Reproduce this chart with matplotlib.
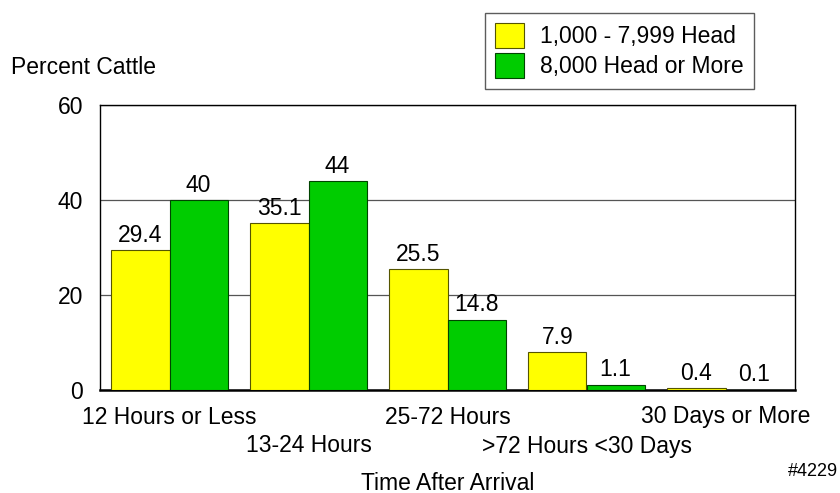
import numpy as np
import matplotlib.pyplot as plt

plt.rcParams['font.family'] = ['Liberation Sans', 'DejaVu Sans']

categorias = ['12 Hours or Less', '13-24 Hours', '25-72 Hours',
              '>72 Hours <30 Days', '30 Days or More']
pequenos = [29.4, 35.1, 25.5, 7.9, 0.4]
grandes = [40, 44, 14.8, 1.1, 0.1]
series = ['1,000 - 7,999 Head', '8,000 Head or More']

fs = 16.5

fig = plt.figure(figsize=(8.4, 4.93), dpi=100)
ax = fig.add_axes([100 / 840, 1 - 390 / 493, 695 / 840, 285 / 493])

x = np.arange(len(categorias)) + 0.5
w = 0.418
b1 = ax.bar(x - w / 2, pequenos, w, color='#ffff00', edgecolor='#555500',
            linewidth=0.8, label=series[0], zorder=3)
b2 = ax.bar(x + w / 2, grandes, w, color='#00cc00', edgecolor='#004400',
            linewidth=0.8, label=series[1], zorder=3)

for barras, vals in ((b1, pequenos), (b2, grandes)):
    for r, v in zip(barras, vals):
        ax.annotate(f'{v:g}', (r.get_x() + r.get_width() / 2, v),
                    xytext=(0, 6), textcoords='offset points',
                    ha='center', va='baseline', fontsize=fs)

ax.set_xlim(0, len(categorias))
ax.set_ylim(0, 60)
ax.set_yticks([0, 20, 40, 60])
ax.tick_params(axis='y', length=0, labelsize=fs, pad=12)
ax.set_xticks([])
for s in ('left', 'right', 'top'):
    ax.spines[s].set_linewidth(1.0)
ax.spines['bottom'].set_linewidth(1.8)
ax.yaxis.grid(True, color='#555555', linewidth=0.9, zorder=0)

# etiquetas en dos filas
for i, c in enumerate(categorias):
    fila = 417 if i % 2 == 0 else 446
    fig.text(x[i] / len(categorias) * (695 / 840) + 100 / 840, 1 - fila / 493, c,
             ha='center', va='center', fontsize=fs)

fig.text(448 / 840, 1 - 483 / 493, 'Time After Arrival', ha='center',
         va='center', fontsize=fs)
fig.text(11 / 840, 1 - 68 / 493, 'Percent Cattle', ha='left', va='center',
         fontsize=fs)
fig.text(838 / 840, 1 - 471 / 493, '#4229', ha='right', va='center',
         fontsize=13)

leg = fig.legend(loc='upper left', bbox_to_anchor=(485 / 840, 1 - 13 / 493),
                 fontsize=fs, frameon=True, fancybox=False, edgecolor='#333333',
                 handlelength=1.25, handleheight=1.3, borderpad=0.45,
                 labelspacing=0.2, handletextpad=0.7, borderaxespad=0)
leg.get_frame().set_linewidth(1.0)

fig.savefig('out.png', dpi=100)
